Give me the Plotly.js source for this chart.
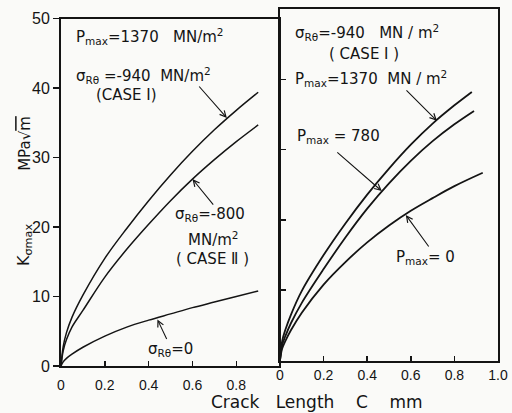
<!DOCTYPE html>
<html>
<head>
<meta charset="utf-8">
<script src="https://cdn.plot.ly/plotly-3.0.1.min.js"></script>
<style>html,body{margin:0;padding:0;background:#fafaf8;}#chart{width:512px;height:413px;}</style>
</head>
<body>
<div id="chart"></div>
<script>
// ---- Data (crack length C in mm, K in MPa√m) ----
// Left panel: Pmax = 1370 MN/m², varying residual stress σRθ
const cLeft      = [0, 0.01, 0.025, 0.05, 0.1, 0.2, 0.3, 0.4, 0.5, 0.6, 0.7, 0.8, 0.9];
const kCase1     = [0, 2.8, 4.8, 7.0, 10.2, 15.5, 19.8, 23.8, 27.5, 30.9, 34.0, 36.8, 39.4];  // σRθ = -940 (CASE I)
const kCase2     = [0, 2.2, 3.8, 5.6, 8.0, 12.8, 16.8, 20.4, 23.8, 26.9, 29.7, 32.3, 34.7];   // σRθ = -800 (CASE II)
const kSigma0    = [0, 0.6, 1.1, 1.7, 2.7, 4.3, 5.6, 6.6, 7.5, 8.4, 9.2, 10.0, 10.8];         // σRθ = 0
// Right panel: σRθ = -940 (CASE I), varying Pmax
const cP1370     = [0, 0.01, 0.025, 0.05, 0.1, 0.2, 0.3, 0.4, 0.5, 0.6, 0.7, 0.8, 0.88];
const kP1370     = [0, 2.8, 4.4, 6.5, 9.9, 15.0, 19.5, 23.6, 27.3, 30.7, 33.7, 36.3, 38.2];
const cP780      = [0, 0.01, 0.025, 0.05, 0.1, 0.2, 0.3, 0.4, 0.5, 0.6, 0.7, 0.8, 0.89];
const kP780      = [0, 2.2, 3.5, 5.3, 8.2, 13.0, 17.5, 21.6, 25.2, 28.4, 31.2, 33.6, 35.5];
const cP0        = [0, 0.01, 0.025, 0.05, 0.1, 0.2, 0.3, 0.4, 0.5, 0.6, 0.7, 0.8, 0.93];
const kP0        = [0, 1.7, 2.8, 4.3, 6.8, 10.8, 14.0, 16.8, 19.2, 21.3, 23.1, 24.8, 26.7];
// Tick labels
const xTickValsL = [0, 0.2, 0.4, 0.6, 0.8];
const xTickTextL = ['0', '0.2', '0.4', '0.6', '0.8'];
const xTickValsR = [0, 0.2, 0.4, 0.6, 0.8, 1.0];
const xTickTextR = ['0', '0.2', '0.4', '0.6', '0.8', '1.0'];
const yTickVals  = [0, 10, 20, 30, 40, 50];
const yTickValsR = [10, 20, 30, 40];

const INK = '#141414';
const FONT = 'DejaVu Sans, Liberation Sans, sans-serif';

function curve(x, y, xa, ya, w) {
  return {x: x, y: y, xaxis: xa, yaxis: ya, type: 'scatter', mode: 'lines',
          line: {color: INK, width: w, shape: 'spline', smoothing: 1},
          hoverinfo: 'skip', showlegend: false};
}

const data = [
  curve(cLeft, kCase1, 'x', 'y', 1.5),
  curve(cLeft, kCase2, 'x', 'y', 1.5),
  curve(cLeft, kSigma0, 'x', 'y', 1.5),
  curve(cP1370, kP1370, 'x2', 'y2', 1.8),
  curve(cP780, kP780, 'x2', 'y2', 1.8),
  curve(cP0, kP0, 'x2', 'y2', 1.8)
];

const axBase = {showline: true, mirror: true, linewidth: 2, linecolor: INK,
                showgrid: false, zeroline: false, tickcolor: INK, tickwidth: 1.5,
                fixedrange: true};

function txt(text, x, y, opts) {
  return Object.assign({text: text, x: x, y: y, xref: 'paper', yref: 'paper',
    showarrow: false, xanchor: 'center', yanchor: 'middle',
    font: {family: FONT, size: 15, color: INK}}, opts || {});
}
function arrow(x, y, xr, yr, ax, ay) {
  return {text: '', x: x, y: y, xref: xr, yref: yr, showarrow: true,
          ax: ax, ay: ay, axref: 'pixel', ayref: 'pixel',
          arrowhead: 5, arrowsize: 1.1, arrowwidth: 1.1, arrowcolor: INK, standoff: 0};
}

const layout = {
  width: 512, height: 413,
  margin: {l: 61, r: 14, t: 9, b: 47},
  paper_bgcolor: '#fafaf8', plot_bgcolor: '#fafaf8',
  showlegend: false,
  font: {family: FONT, color: INK},
  xaxis: Object.assign({}, axBase, {domain: [0, 218/437], range: [0, 0.995], anchor: 'y',
    ticks: 'inside', ticklen: 5, tickmode: 'array', tickvals: xTickValsL, ticktext: xTickTextL,
    tickfont: {family: 'Liberation Sans, sans-serif', size: 14, color: INK}, ticklabelstandoff: 5}),
  yaxis: Object.assign({}, axBase, {domain: [0, 0.973], range: [0, 50], anchor: 'x',
    ticks: 'outside', ticklen: 6, tickmode: 'array', tickvals: yTickVals,
    tickfont: {family: 'Liberation Sans, sans-serif', size: 16, color: INK}}),
  xaxis2: Object.assign({}, axBase, {domain: [219/437, 1], range: [0, 1.0], anchor: 'y2',
    ticks: 'inside', ticklen: 5, tickmode: 'array', tickvals: xTickValsR, ticktext: xTickTextR,
    tickfont: {family: 'Liberation Sans, sans-serif', size: 14, color: INK}, ticklabelstandoff: 1}),
  yaxis2: Object.assign({}, axBase, {domain: [0.0154, 1], range: [0, 50], anchor: 'x2',
    ticks: 'inside', ticklen: 6, tickmode: 'array', tickvals: yTickValsR, showticklabels: false}),
  annotations: [
    // Left panel texts
    txt('P<sub>max</sub>=1370   MN/m<sup>2</sup>', 0.0297, 0.922, {xanchor: 'left'}),
    txt('σ<sub>Rθ</sub> =-940  MN/m<sup>2</sup>', 0.0297, 0.815, {xanchor: 'left'}),
    txt('(CASE Ⅰ)', 0.150, 0.759),
    arrow(0.757, 35.7, 'x', 'y', -29, -33),
    txt('σ<sub>Rθ</sub>=-800', 0.341, 0.425),
    txt('MN/m<sup>2</sup>', 0.348, 0.356),
    txt('( CASE Ⅱ )', 0.346, 0.300),
    arrow(0.6, 26.9, 'x', 'y', 22, 27),
    txt('σ<sub>Rθ</sub>=0', 0.25, 0.045),
    arrow(0.44, 6.7, 'x', 'y', 10, 21),
    // Right panel texts
    txt('σ<sub>Rθ</sub>=-940   MN / m<sup>2</sup>', 0.531, 0.933, {xanchor: 'left'}),
    txt('( CASE Ⅰ )', 0.693, 0.874),
    txt('P<sub>max</sub>=1370  MN / m<sup>2</sup>', 0.531, 0.804, {xanchor: 'left'}),
    arrow(0.72, 34.1, 'x2', 'y2', -32, -32),
    txt('P<sub>max</sub> = 780', 0.535, 0.644, {xanchor: 'left'}),
    arrow(0.467, 24.1, 'x2', 'y2', -46, -40),
    txt('P<sub>max</sub>= 0', 0.833, 0.303),
    arrow(0.577, 20.7, 'x2', 'y2', 24, 33),
    // Axis titles
    txt('K<sub>σmax</sub>', -0.0824, 0.339, {textangle: -90, font: {family: FONT, size: 16, color: INK}}),
    txt("MPa√<span style='text-decoration:overline'>m</span>", -0.0824, 0.625, {textangle: -90, font: {family: FONT, size: 15, color: INK}}),
    txt('Crack   Length    C    mm', 0.585, -0.101, {font: {family: FONT, size: 17, color: INK}})
  ]
};

Plotly.newPlot('chart', data, layout, {staticPlot: true, displayModeBar: false});
</script>
</body>
</html>
